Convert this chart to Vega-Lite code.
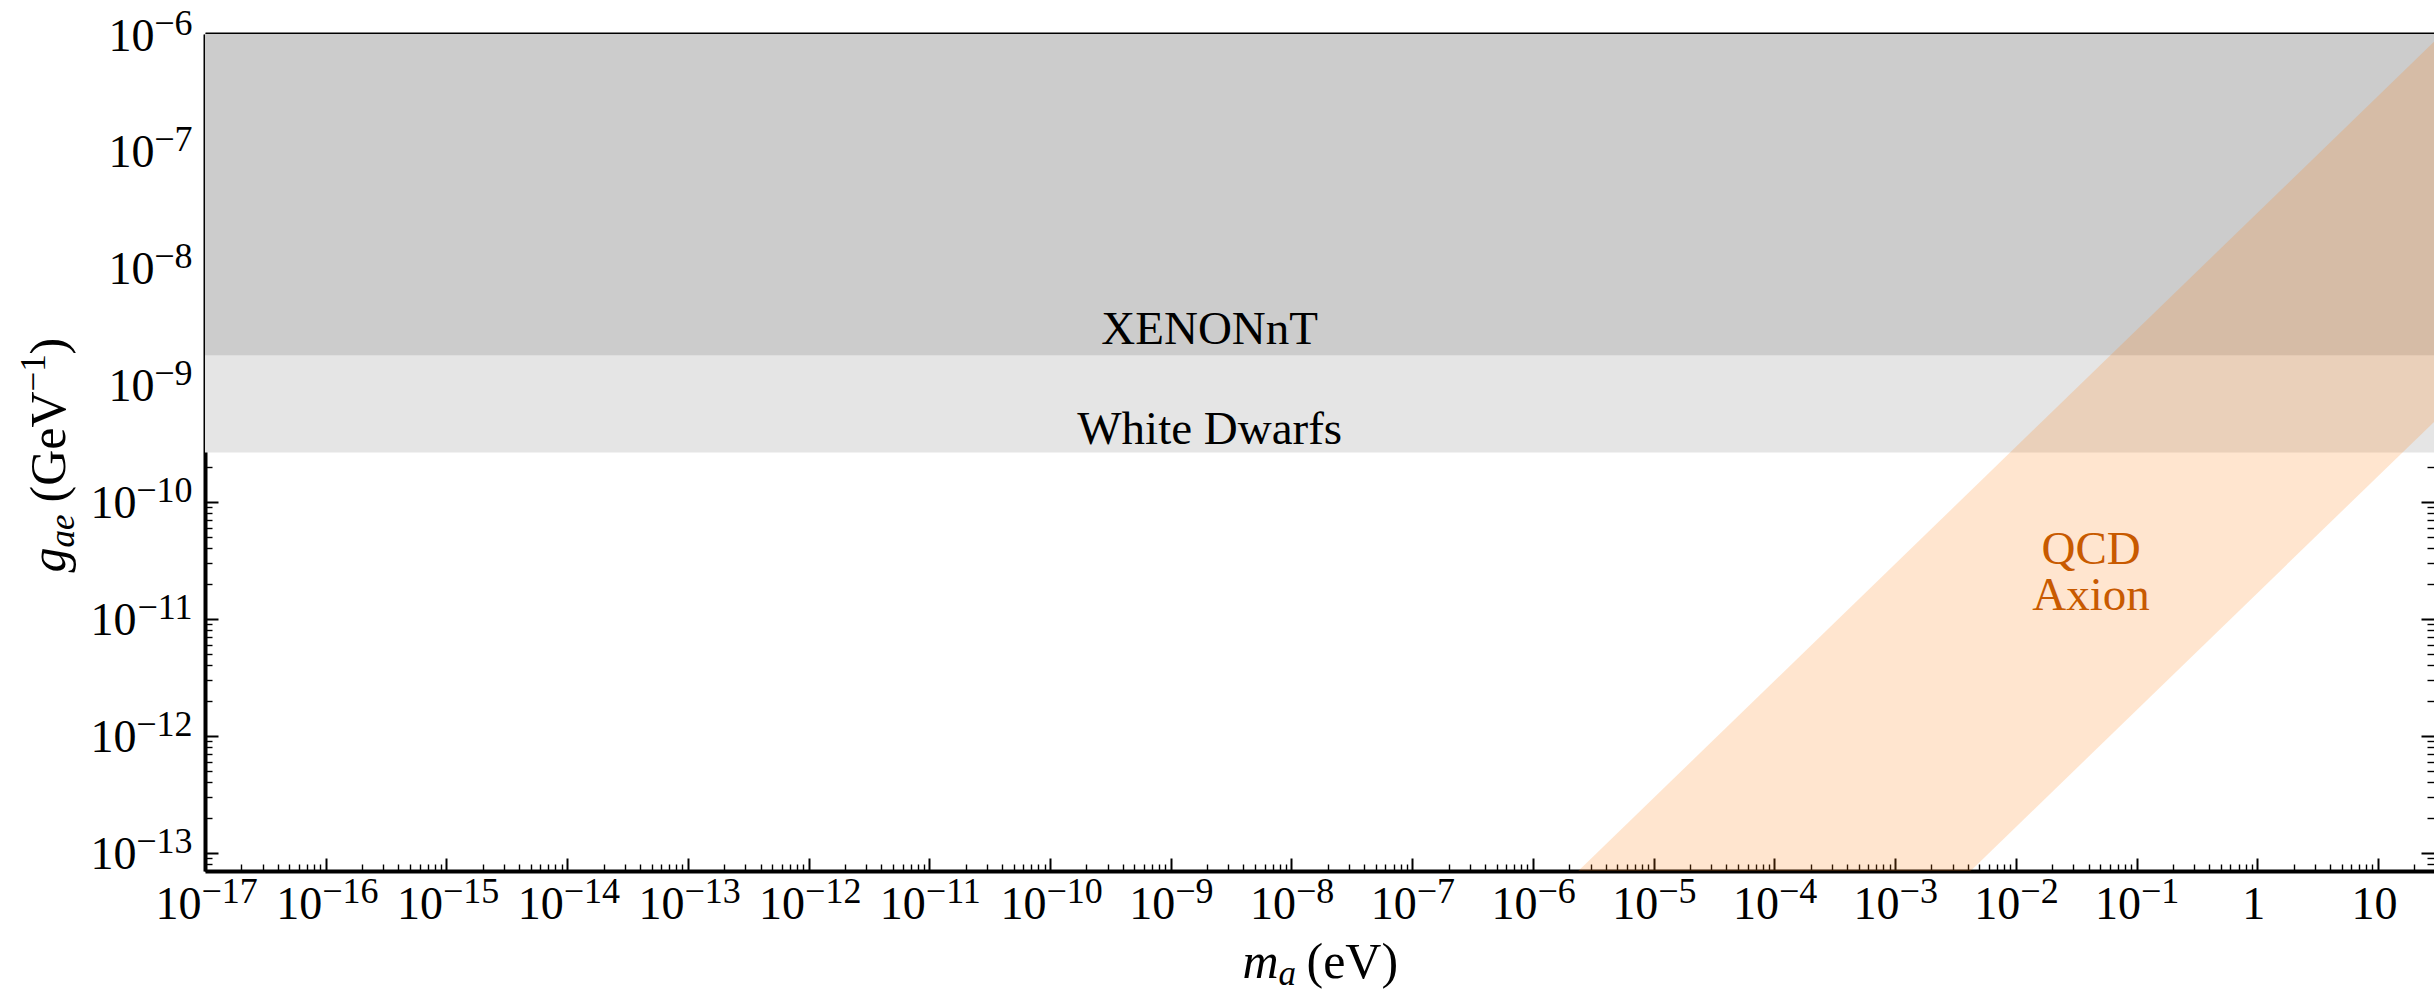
{
  "$schema": "https://vega.github.io/schema/vega-lite/v6.json",
  "width": 2229,
  "height": 837,
  "autosize": {"type": "none"},
  "padding": {"left": 205, "top": 34, "right": 0, "bottom": 121},
  "background": "white",
  "config": {
    "view": {"stroke": null},
    "axis": {
      "grid": false,
      "zindex": 1,
      "domainColor": "black",
      "tickColor": "black",
      "labelColor": "black",
      "titleColor": "black",
      "labelFont": "Liberation Serif",
      "titleFont": "Liberation Serif",
      "titleFontWeight": "normal",
      "titleFontSize": 50,
      "titleBaseline": "alphabetic",
      "titleAlign": "left",
      "labelFlush": false,
      "labelOverlap": false,
      "labelBound": false
    }
  },
  "datasets": {
    "limits": [
      {"limit": "White Dwarfs", "m_lo": 1e-18, "m_hi": 100, "g_lo": 2.64e-10, "g_hi": 1e-5},
      {"limit": "XENONnT", "m_lo": 1e-18, "m_hi": 100, "g_lo": 1.79e-9, "g_hi": 1e-5}
    ],
    "qcd": [
      {"m": 1e-8, "g_lo": 1.66e-19, "g_hi": 2.95e-16},
      {"m": 1000, "g_lo": 1.66e-8, "g_hi": 2.95e-5}
    ],
    "labels": [
      {"label": "XENONnT", "m": 2.1e-9, "g": 2.24e-9},
      {"label": "White Dwarfs", "m": 2.1e-9, "g": 3.13e-10}
    ],
    "qcd_label": [
      {"label": "QCD\nAxion", "m": 0.042, "g": 3.85e-11}
    ]
  },
  "layer": [
    {
      "data": {"name": "limits"},
      "transform": [{"filter": "datum.limit == 'White Dwarfs'"}],
      "mark": {"type": "rect", "fill": "#e5e5e5", "clip": true, "strokeWidth": 0},
      "encoding": {
        "x": {
          "field": "m_lo", "type": "quantitative",
          "scale": {"type": "log", "domain": [1e-17, 29.1], "nice": false},
          "axis": {
            "orient": "bottom",
            "values": [1e-17, 1e-16, 1e-15, 1e-14, 1e-13, 1e-12, 1e-11, 1e-10, 1e-9, 1e-8, 1e-7, 1e-6, 1e-5, 1e-4, 1e-3, 1e-2, 1e-1, 1, 10],
            "ticks": false,
            "domain": true,
            "domainWidth": 4,
            "labelFontSize": 46,
            "labelPadding": 47,
            "labelBaseline": "alphabetic",
            "labelExpr": "datum.value >= 5 ? '10' : (datum.value >= 1 ? '1' : '10')",
            "labelAlign": {"condition": {"test": "datum.value >= 1", "value": "center"}, "value": "right"},
            "labelOffset": {"condition": {"test": "datum.value >= 1 || datum.value < 3e-10", "value": -4}, "value": 4},
            "title": "m",
            "titleFontStyle": "italic",
            "titleX": 1037,
            "titleY": 106
          }
        },
        "x2": {"field": "m_hi"},
        "y": {
          "field": "g_lo", "type": "quantitative",
          "scale": {"type": "log", "domain": [7e-14, 1e-6], "nice": false},
          "axis": {
            "orient": "left",
            "values": [1e-13, 1e-12, 1e-11, 1e-10, 1e-9, 1e-8, 1e-7, 1e-6],
            "ticks": false,
            "domain": true,
            "domainWidth": 4,
            "labelFontSize": 46,
            "labelPadding": {"condition": {"test": "datum.value < 3e-10", "value": 69}, "value": 51},
            "labelBaseline": "alphabetic",
            "labelAlign": "right",
            "labelOffset": 16,
            "labelExpr": "'10'",
            "title": "g",
            "titleFontStyle": "italic",
            "titleAngle": -90,
            "titleX": -141,
            "titleY": 538
          }
        },
        "y2": {"field": "g_hi"}
      }
    },
    {
      "data": {"name": "limits"},
      "transform": [{"filter": "datum.limit == 'XENONnT'"}],
      "mark": {"type": "rect", "fill": "#cccccc", "clip": true, "strokeWidth": 0},
      "encoding": {
        "x": {
          "field": "m_lo", "type": "quantitative",
          "scale": {"type": "log", "domain": [1e-17, 29.1], "nice": false},
          "axis": {
            "orient": "bottom",
            "values": [1e-17, 1e-16, 1e-15, 1e-14, 1e-13, 1e-12, 1e-11, 1e-10, 1e-9, 1e-8, 1e-7, 1e-6, 1e-5, 1e-4, 1e-3, 1e-2, 1e-1, 1, 10],
            "ticks": false,
            "domain": false,
            "labelFontSize": 36,
            "labelPadding": 31,
            "labelBaseline": "alphabetic",
            "labelAlign": "left",
            "labelOffset": {"condition": {"test": "datum.value < 3e-10", "value": -4}, "value": 4},
            "labelExpr": "datum.value >= 1 ? '' : '−' + round(-log(datum.value) / LN10)",
            "title": "a",
            "titleFontStyle": "italic",
            "titleFontSize": 35,
            "titleX": 1073,
            "titleY": 113
          }
        },
        "x2": {"field": "m_hi"},
        "y": {
          "field": "g_lo", "type": "quantitative",
          "scale": {"type": "log", "domain": [7e-14, 1e-6], "nice": false},
          "axis": {
            "orient": "left",
            "values": [1e-13, 1e-12, 1e-11, 1e-10, 1e-9, 1e-8, 1e-7, 1e-6],
            "ticks": false,
            "domain": false,
            "labelFontSize": 36,
            "labelPadding": 13,
            "labelBaseline": "alphabetic",
            "labelOffset": 0,
            "labelAlign": "right",
            "labelExpr": "'−' + round(-log(datum.value) / LN10)",
            "title": "ae",
            "titleFontStyle": "italic",
            "titleFontSize": 35,
            "titleAngle": -90,
            "titleX": -132,
            "titleY": 513
          }
        },
        "y2": {"field": "g_hi"}
      }
    },
    {
      "data": {"name": "qcd"},
      "mark": {"type": "area", "color": "#ff7f0e", "opacity": 0.2, "clip": true},
      "encoding": {
        "x": {
          "field": "m", "type": "quantitative",
          "scale": {"type": "log", "domain": [1e-17, 29.1], "nice": false},
          "axis": {
            "orient": "bottom",
            "values": [1e-17, 1e-16, 1e-15, 1e-14, 1e-13, 1e-12, 1e-11, 1e-10, 1e-9, 1e-8, 1e-7, 1e-6, 1e-5, 1e-4, 1e-3, 1e-2, 1e-1, 1, 10],
            "domain": false, "labels": false, "ticks": true,
            "tickSize": -13, "tickWidth": 2,
            "title": "(eV)",
            "titleX": 1101,
            "titleY": 106
          }
        },
        "y": {
          "field": "g_lo", "type": "quantitative",
          "scale": {"type": "log", "domain": [7e-14, 1e-6], "nice": false},
          "axis": {
            "orient": "left",
            "values": [1e-13, 1e-12, 1e-11, 1e-10, 1e-9, 1e-8, 1e-7, 1e-6],
            "domain": false, "labels": false, "ticks": true,
            "tickSize": -13, "tickWidth": 2,
            "title": "(GeV",
            "titleAngle": -90,
            "titleX": -141,
            "titleY": 468
          }
        },
        "y2": {"field": "g_hi"}
      }
    },
    {
      "data": {"name": "labels"},
      "transform": [{"filter": "datum.label == 'XENONnT'"}],
      "mark": {"type": "text", "font": "Liberation Serif", "fontSize": 47, "color": "black", "align": "center", "baseline": "alphabetic"},
      "encoding": {
        "x": {
          "field": "m", "type": "quantitative",
          "scale": {"type": "log", "domain": [1e-17, 29.1], "nice": false},
          "axis": {
            "orient": "bottom",
            "values": [2e-17, 3e-17, 4e-17, 5e-17, 6e-17, 7e-17, 8e-17, 9e-17,
                       2e-16, 3e-16, 4e-16, 5e-16, 6e-16, 7e-16, 8e-16, 9e-16,
                       2e-15, 3e-15, 4e-15, 5e-15, 6e-15, 7e-15, 8e-15, 9e-15,
                       2e-14, 3e-14, 4e-14, 5e-14, 6e-14, 7e-14, 8e-14, 9e-14,
                       2e-13, 3e-13, 4e-13, 5e-13, 6e-13, 7e-13, 8e-13, 9e-13,
                       2e-12, 3e-12, 4e-12, 5e-12, 6e-12, 7e-12, 8e-12, 9e-12,
                       2e-11, 3e-11, 4e-11, 5e-11, 6e-11, 7e-11, 8e-11, 9e-11,
                       2e-10, 3e-10, 4e-10, 5e-10, 6e-10, 7e-10, 8e-10, 9e-10,
                       2e-9, 3e-9, 4e-9, 5e-9, 6e-9, 7e-9, 8e-9, 9e-9,
                       2e-8, 3e-8, 4e-8, 5e-8, 6e-8, 7e-8, 8e-8, 9e-8,
                       2e-7, 3e-7, 4e-7, 5e-7, 6e-7, 7e-7, 8e-7, 9e-7,
                       2e-6, 3e-6, 4e-6, 5e-6, 6e-6, 7e-6, 8e-6, 9e-6,
                       2e-5, 3e-5, 4e-5, 5e-5, 6e-5, 7e-5, 8e-5, 9e-5,
                       2e-4, 3e-4, 4e-4, 5e-4, 6e-4, 7e-4, 8e-4, 9e-4,
                       2e-3, 3e-3, 4e-3, 5e-3, 6e-3, 7e-3, 8e-3, 9e-3,
                       0.02, 0.03, 0.04, 0.05, 0.06, 0.07, 0.08, 0.09,
                       0.2, 0.3, 0.4, 0.5, 0.6, 0.7, 0.8, 0.9,
                       2, 3, 4, 5, 6, 7, 8, 9, 20],
            "domain": false, "labels": false, "ticks": true,
            "tickSize": -7, "tickWidth": 1.4, "title": null
          }
        },
        "y": {
          "field": "g", "type": "quantitative",
          "scale": {"type": "log", "domain": [7e-14, 1e-6], "nice": false},
          "axis": {
            "orient": "left",
            "values": [7e-14, 8e-14, 9e-14,
                       2e-13, 3e-13, 4e-13, 5e-13, 6e-13, 7e-13, 8e-13, 9e-13,
                       2e-12, 3e-12, 4e-12, 5e-12, 6e-12, 7e-12, 8e-12, 9e-12,
                       2e-11, 3e-11, 4e-11, 5e-11, 6e-11, 7e-11, 8e-11, 9e-11,
                       2e-10, 3e-10, 4e-10, 5e-10, 6e-10, 7e-10, 8e-10, 9e-10,
                       2e-9, 3e-9, 4e-9, 5e-9, 6e-9, 7e-9, 8e-9, 9e-9,
                       2e-8, 3e-8, 4e-8, 5e-8, 6e-8, 7e-8, 8e-8, 9e-8,
                       2e-7, 3e-7, 4e-7, 5e-7, 6e-7, 7e-7, 8e-7, 9e-7],
            "domain": false, "labels": false, "ticks": true,
            "tickSize": -7, "tickWidth": 1.4,
            "title": "−1",
            "titleFontSize": 35,
            "titleAngle": -90,
            "titleX": -161,
            "titleY": 357
          }
        },
        "text": {"field": "label", "type": "nominal"}
      }
    },
    {
      "data": {"name": "labels"},
      "transform": [{"filter": "datum.label == 'White Dwarfs'"}],
      "mark": {"type": "text", "font": "Liberation Serif", "fontSize": 47, "color": "black", "align": "center", "baseline": "alphabetic"},
      "encoding": {
        "x": {
          "field": "m", "type": "quantitative",
          "scale": {"type": "log", "domain": [1e-17, 29.1], "nice": false},
          "axis": {
            "orient": "top",
            "values": [1e-17, 1e-16, 1e-15, 1e-14, 1e-13, 1e-12, 1e-11, 1e-10, 1e-9, 1e-8, 1e-7, 1e-6, 1e-5, 1e-4, 1e-3, 1e-2, 1e-1, 1, 10],
            "domain": true, "domainWidth": 4, "labels": false, "ticks": true,
            "tickSize": -13, "tickWidth": 2, "title": null
          }
        },
        "y": {
          "field": "g", "type": "quantitative",
          "scale": {"type": "log", "domain": [7e-14, 1e-6], "nice": false},
          "axis": {
            "orient": "right",
            "values": [1e-13, 1e-12, 1e-11, 1e-10, 1e-9, 1e-8, 1e-7, 1e-6],
            "domain": false, "labels": false, "ticks": true,
            "tickSize": -13, "tickWidth": 2,
            "title": ")",
            "titleAngle": -90,
            "titleX": -2370,
            "titleY": 320
          }
        },
        "text": {"field": "label", "type": "nominal"}
      }
    },
    {
      "data": {"name": "qcd_label"},
      "mark": {"type": "text", "font": "Liberation Serif", "fontSize": 47, "color": "#c85a00", "align": "center", "baseline": "middle", "lineBreak": "\n", "lineHeight": 46},
      "encoding": {
        "x": {
          "field": "m", "type": "quantitative",
          "scale": {"type": "log", "domain": [1e-17, 29.1], "nice": false},
          "axis": {
            "orient": "top",
            "values": [2e-17, 3e-17, 4e-17, 5e-17, 6e-17, 7e-17, 8e-17, 9e-17,
                       2e-16, 3e-16, 4e-16, 5e-16, 6e-16, 7e-16, 8e-16, 9e-16,
                       2e-15, 3e-15, 4e-15, 5e-15, 6e-15, 7e-15, 8e-15, 9e-15,
                       2e-14, 3e-14, 4e-14, 5e-14, 6e-14, 7e-14, 8e-14, 9e-14,
                       2e-13, 3e-13, 4e-13, 5e-13, 6e-13, 7e-13, 8e-13, 9e-13,
                       2e-12, 3e-12, 4e-12, 5e-12, 6e-12, 7e-12, 8e-12, 9e-12,
                       2e-11, 3e-11, 4e-11, 5e-11, 6e-11, 7e-11, 8e-11, 9e-11,
                       2e-10, 3e-10, 4e-10, 5e-10, 6e-10, 7e-10, 8e-10, 9e-10,
                       2e-9, 3e-9, 4e-9, 5e-9, 6e-9, 7e-9, 8e-9, 9e-9,
                       2e-8, 3e-8, 4e-8, 5e-8, 6e-8, 7e-8, 8e-8, 9e-8,
                       2e-7, 3e-7, 4e-7, 5e-7, 6e-7, 7e-7, 8e-7, 9e-7,
                       2e-6, 3e-6, 4e-6, 5e-6, 6e-6, 7e-6, 8e-6, 9e-6,
                       2e-5, 3e-5, 4e-5, 5e-5, 6e-5, 7e-5, 8e-5, 9e-5,
                       2e-4, 3e-4, 4e-4, 5e-4, 6e-4, 7e-4, 8e-4, 9e-4,
                       2e-3, 3e-3, 4e-3, 5e-3, 6e-3, 7e-3, 8e-3, 9e-3,
                       0.02, 0.03, 0.04, 0.05, 0.06, 0.07, 0.08, 0.09,
                       0.2, 0.3, 0.4, 0.5, 0.6, 0.7, 0.8, 0.9,
                       2, 3, 4, 5, 6, 7, 8, 9, 20],
            "domain": false, "labels": false, "ticks": true,
            "tickSize": -7, "tickWidth": 1.4, "title": null
          }
        },
        "y": {
          "field": "g", "type": "quantitative",
          "scale": {"type": "log", "domain": [7e-14, 1e-6], "nice": false},
          "axis": {
            "orient": "right",
            "values": [7e-14, 8e-14, 9e-14,
                       2e-13, 3e-13, 4e-13, 5e-13, 6e-13, 7e-13, 8e-13, 9e-13,
                       2e-12, 3e-12, 4e-12, 5e-12, 6e-12, 7e-12, 8e-12, 9e-12,
                       2e-11, 3e-11, 4e-11, 5e-11, 6e-11, 7e-11, 8e-11, 9e-11,
                       2e-10, 3e-10, 4e-10, 5e-10, 6e-10, 7e-10, 8e-10, 9e-10,
                       2e-9, 3e-9, 4e-9, 5e-9, 6e-9, 7e-9, 8e-9, 9e-9,
                       2e-8, 3e-8, 4e-8, 5e-8, 6e-8, 7e-8, 8e-8, 9e-8,
                       2e-7, 3e-7, 4e-7, 5e-7, 6e-7, 7e-7, 8e-7, 9e-7],
            "domain": false, "labels": false, "ticks": true,
            "tickSize": -7, "tickWidth": 1.4, "title": null
          }
        },
        "text": {"field": "label", "type": "nominal"}
      }
    }
  ],
  "resolve": {"axis": {"x": "independent", "y": "independent"}}
}
